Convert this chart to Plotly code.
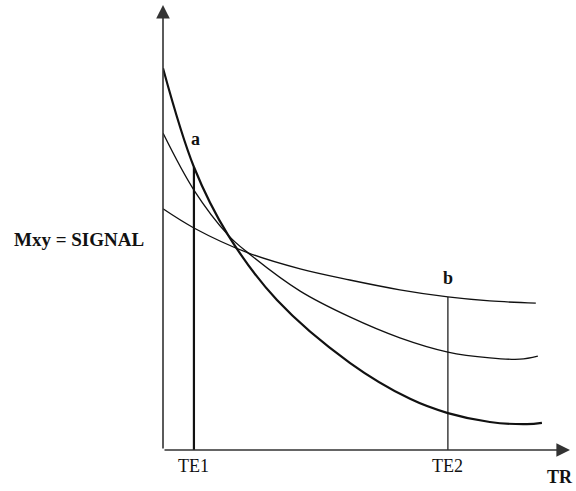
import plotly.graph_objects as go

# Data (arbitrary units)
tr_thick = [0, 0.76, 1.60, 2.80, 4.59, 6.07, 7.00, 8.03, 8.94, 9.31]
sig_thick = [8.58, 6.36, 4.83, 3.37, 1.96, 1.15, 0.83, 0.63, 0.58, 0.61]

tr_mid = [0, 0.76, 1.60, 2.09, 3.37, 4.59, 5.82, 7.00, 8.03, 8.77, 9.21]
sig_mid = [7.12, 5.84, 4.83, 4.43, 3.57, 2.99, 2.52, 2.20, 2.07, 2.04, 2.11]

tr_flat = [0, 0.76, 2.09, 3.37, 4.59, 5.82, 7.00, 8.03, 9.16]
sig_flat = [5.42, 4.99, 4.43, 4.07, 3.82, 3.60, 3.44, 3.35, 3.30]

te_positions = [0.76, 7.00]
te_labels = ["TE1", "TE2"]
te_tops = [6.36, 3.44]

FONT = "Liberation Serif, Times New Roman, serif"
INK = "#111111"

fig = go.Figure()
fig.add_trace(go.Scatter(x=tr_thick, y=sig_thick, mode="lines", line=dict(color=INK, width=2.2, shape="spline"), hoverinfo="skip"))
fig.add_trace(go.Scatter(x=tr_mid, y=sig_mid, mode="lines", line=dict(color=INK, width=1.3, shape="spline"), hoverinfo="skip"))
fig.add_trace(go.Scatter(x=tr_flat, y=sig_flat, mode="lines", line=dict(color=INK, width=1.3, shape="spline"), hoverinfo="skip"))

# TE vertical lines
widths = [2.2, 1.2]
for xv, top, w in zip(te_positions, te_tops, widths):
    fig.add_trace(go.Scatter(x=[xv, xv], y=[0, top], mode="lines", line=dict(color=INK, width=w), hoverinfo="skip"))

annotations = []
# axes with arrows
annotations.append(dict(x=10.0, y=0, ax=0, ay=0, xref="x", yref="y", axref="x", ayref="y",
                        showarrow=True, arrowhead=2, arrowsize=1.7, arrowwidth=1.6, arrowcolor="#333333", text=""))
annotations.append(dict(x=0, y=10.0, ax=0, ay=0, xref="x", yref="y", axref="x", ayref="y",
                        showarrow=True, arrowhead=2, arrowsize=1.7, arrowwidth=1.6, arrowcolor="#333333", text=""))
# tick labels
for xv, lab in zip(te_positions, te_labels):
    annotations.append(dict(x=xv, y=0, xref="x", yref="y", yshift=-16, text=lab, showarrow=False,
                            xanchor="center", yanchor="middle", font=dict(family=FONT, size=18, color=INK)))
# point labels
annotations.append(dict(x=0.81, y=6.99, xref="x", yref="y", text="<b>a</b>", showarrow=False,
                        xanchor="center", yanchor="middle", font=dict(family=FONT, size=18, color=INK)))
annotations.append(dict(x=7.00, y=3.87, xref="x", yref="y", text="<b>b</b>", showarrow=False,
                        xanchor="center", yanchor="middle", font=dict(family=FONT, size=18, color=INK)))
# axis titles
annotations.append(dict(x=9.75, y=0, xref="x", yref="y", yshift=-27, text="<b>TR</b>", showarrow=False,
                        xanchor="center", yanchor="middle", font=dict(family=FONT, size=18, color=INK)))
annotations.append(dict(x=-0.206, y=4.72, xref="paper", yref="y", text="<b>Mxy = SIGNAL</b>", showarrow=False,
                        xanchor="center", yanchor="middle", font=dict(family=FONT, size=19, color=INK)))

fig.update_layout(
    width=576, height=491,
    margin=dict(l=163, r=6, t=5, b=41),
    paper_bgcolor="white", plot_bgcolor="white",
    showlegend=False,
    annotations=annotations,
    xaxis=dict(range=[0, 10], showgrid=False, zeroline=False, showline=False, showticklabels=False, ticks=""),
    yaxis=dict(range=[0, 10], showgrid=False, zeroline=False, showline=False, showticklabels=False, ticks=""),
)

fig.write_html("out.html", config={"displayModeBar": False}, post_script="document.body.style.margin='0';")
